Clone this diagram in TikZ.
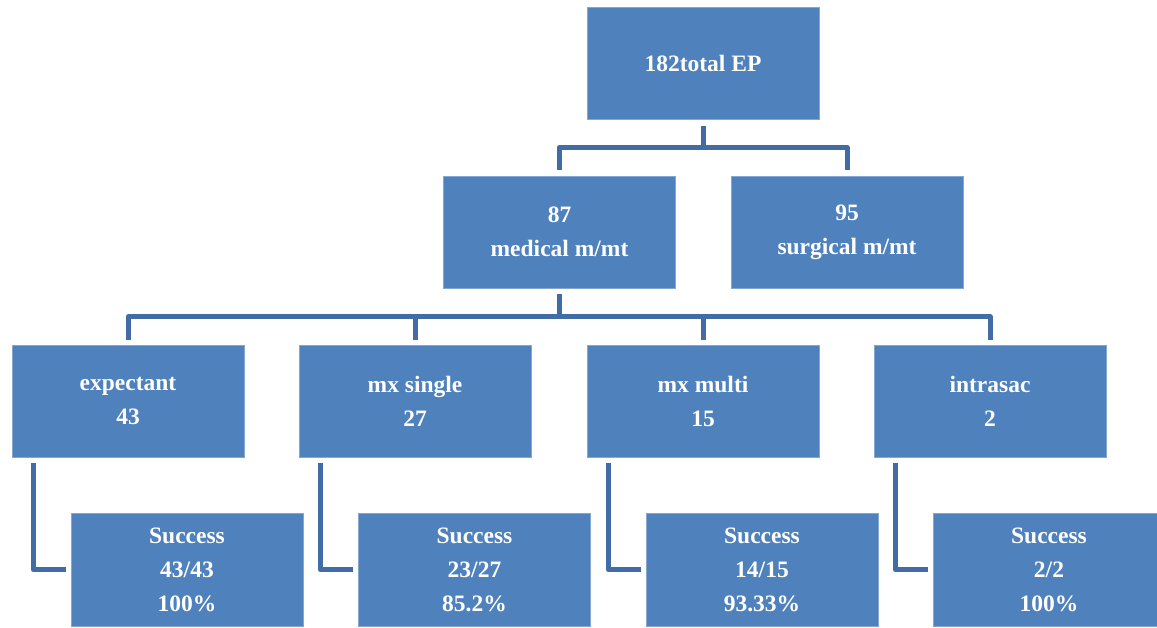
\documentclass[tikz,border=0pt]{standalone}
\usepackage{fontspec}
\setmainfont{Liberation Serif}
\usetikzlibrary{calc}
\definecolor{boxblue}{HTML}{4F81BD}
\definecolor{lineblue}{HTML}{416CA5}
\begin{document}
\begin{tikzpicture}[x=1pt,y=-1pt,
  box/.style={rectangle, fill=boxblue, draw=boxblue!70!white, line width=0.6pt,
    minimum width=232pt, minimum height=112pt, inner sep=0pt, align=center,
    text=white, font=\fontsize{23.5}{34}\selectfont\bfseries},
  conn/.style={draw=lineblue, line width=5pt, line join=round}]
\useasboundingbox (0,0) rectangle (1157,628);
\clip (0,0) rectangle (1157,628);
% nodes
\node[box] (top) at (703,63.5) {182total EP};
\node[box] (med) at (559.5,232) {87\\medical m/mt};
\node[box] (surg) at (847,232) {95\\surgical m/mt};
\node[box] (exp) at (128,401) {expectant\\43};
\node[box] (single) at (415,401) {mx single\\27};
\node[box] (multi) at (703,401) {mx multi\\15};
\node[box] (intra) at (990,401) {intrasac\\2};
\node[box, minimum height=113pt] (s1) at (187,569.5) {Success\\43/43\\100\%};
\node[box, minimum height=113pt] (s2) at (474.5,569.5) {Success\\23/27\\85.2\%};
\node[box, minimum height=113pt] (s3) at (762,569.5) {Success\\14/15\\93.33\%};
\node[box, minimum height=113pt] (s4) at (1049,569.5) {Success\\2/2\\100\%};
% connectors level 1
\coordinate (j1) at ($(top.south)+(0,27.5)$);
\draw[conn, shorten <=6pt, shorten >=6pt] (top.south) -- (j1) -| (med.north);
\draw[conn, shorten >=6pt] (j1) -| (surg.north);
% connectors level 2
\coordinate (j2) at ($(med.south)+(0,28.5)$);
\draw[conn, shorten <=6pt] (med.south) -- (j2);
\draw[conn, shorten >=5pt] (j2) -| (exp.north);
\draw[conn, shorten >=5pt] (j2) -| (single.north);
\draw[conn, shorten >=5pt] (j2) -| (multi.north);
\draw[conn, shorten >=5pt] (j2) -| (intra.north);
% elbow connectors
\draw[conn, shorten <=6pt, shorten >=5pt] ($(exp.south west)+(21.5,0)$) |- (s1.west);
\draw[conn, shorten <=6pt, shorten >=5pt] ($(single.south west)+(21.5,0)$) |- (s2.west);
\draw[conn, shorten <=6pt, shorten >=5pt] ($(multi.south west)+(21.5,0)$) |- (s3.west);
\draw[conn, shorten <=6pt, shorten >=5pt] ($(intra.south west)+(21.5,0)$) |- (s4.west);
\end{tikzpicture}
\end{document}
